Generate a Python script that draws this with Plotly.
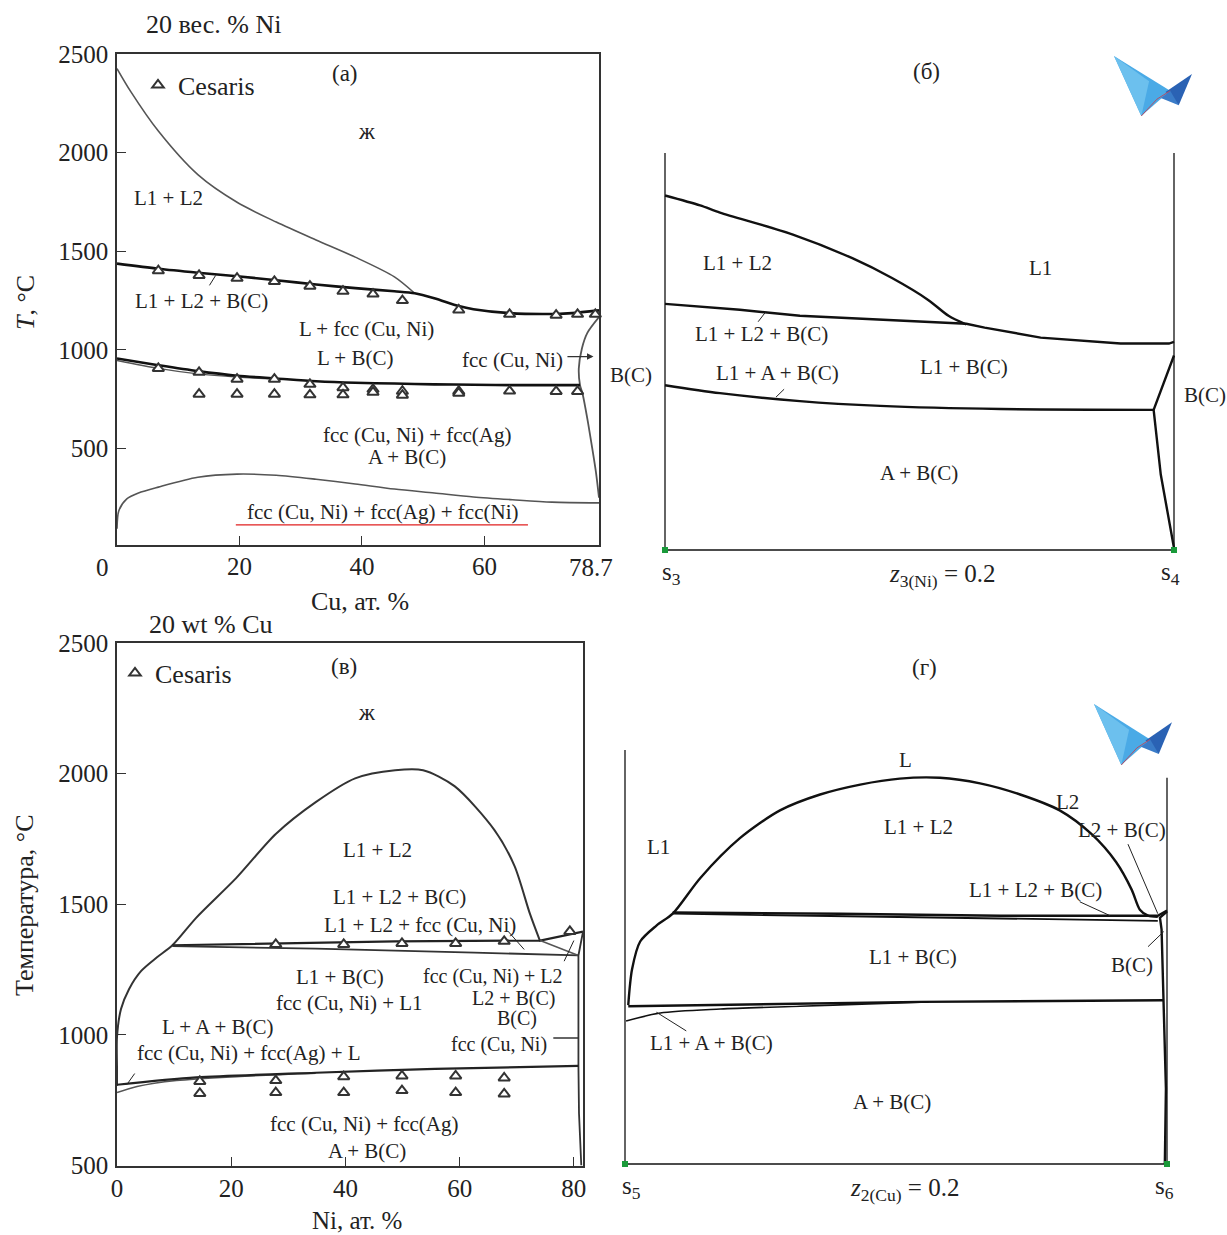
import plotly.graph_objects as go

W, H = 1227, 1235
SERIF = "Liberation Serif, Times New Roman, serif"
TXT = "#222"
THIN = "#555"
THICK = "#111"

# ---------------- Panel (а): 20 вес. % Ni, T vs Cu at.% ----------------
a_liq_cu = [0, 2.25, 6.75, 13.2, 19.6, 26.0, 32.5, 38.9, 45.3, 48.6]
a_liq_t = [2426, 2309, 2109, 1888, 1748, 1648, 1557, 1470, 1370, 1287]
a_up_cu = [0, 6.75, 13.2, 19.6, 26, 32.5, 38.9, 45.3, 48.6, 51.8, 55.8, 58.2, 64.1, 71.7, 74.3, 78.7]
a_up_t = [1437, 1411, 1391, 1373, 1353, 1331, 1313, 1297, 1287, 1262, 1222, 1206, 1186, 1182, 1186, 1200]
a_rb_cu = [78.7, 76.8, 75.9, 75.4, 75.6, 76.0, 76.8, 77.6, 78.2, 78.7]
a_rb_t = [1166, 1086, 1006, 906, 821, 780, 650, 500, 380, 250]
a_low_cu = [0, 6.75, 13.2, 19.6, 26, 32.5, 38.9, 45.3, 51.8, 58.2, 64.6, 75.6]
a_low_t = [956, 922, 892, 869, 855, 841, 833, 829, 825, 823, 821, 821]
a_low2_cu = [0, 6.75, 13.2, 19.6, 26]
a_low2_t = [946, 906, 878, 862, 852]
a_solv_cu = [0, 0.3, 1.6, 3.5, 6.75, 13.2, 19.6, 26, 32.5, 38.9, 45.3, 51.8, 58.2, 64.6, 71, 78.7]
a_solv_t = [93, 184, 244, 274, 304, 354, 370, 364, 344, 320, 294, 274, 254, 240, 228, 224]
ces_a_cu = [6.75, 13.4, 19.6, 25.7, 31.5, 36.9, 41.8, 46.6, 55.8, 64.1, 71.7, 75.2, 78.1,
            6.75, 13.4, 19.6, 25.7, 31.5, 36.9, 41.8, 46.6, 55.8, 64.1, 71.7, 75.2,
            13.4, 19.6, 25.7, 31.5, 36.9, 41.8, 46.6, 55.8]
ces_a_t = [1401, 1377, 1363, 1347, 1323, 1297, 1283, 1250, 1202, 1180, 1176, 1180, 1180,
           906, 886, 851, 851, 825, 808, 800, 790, 790, 791, 789, 789,
           775, 775, 775, 772, 772, 785, 770, 780]
a_yticks = [500, 1000, 1500, 2000, 2500]
a_xticks = [20, 40, 60]
a_xmax_label = "78.7"

# ---------------- Panel (б): isopleth z3(Ni)=0.2 ----------------
b_top_x = [0, 0.069, 0.108, 0.25, 0.368, 0.446, 0.517, 0.557, 0.592]
b_top_y = [89.3, 86.8, 85.0, 79.5, 73.5, 68.5, 63, 59, 56.8]
b_mid_x = [0, 0.147, 0.265, 0.423, 0.592, 0.628, 0.738, 0.895, 0.99, 1.0]
b_mid_y = [62, 60.5, 59, 58, 57, 56, 53.5, 52, 52, 52.4]
b_rb_x = [1.0, 0.96, 0.974, 1.0]
b_rb_y = [49, 35.3, 19, 0.5]
b_low_x = [0, 0.108, 0.265, 0.423, 0.659, 0.96]
b_low_y = [41.5, 39.5, 37.5, 36.3, 35.5, 35.3]
b_edge_top = 100

# ---------------- Panel (в): 20 wt % Cu, T vs Ni at.% ----------------
v_dome_ni = [0, 0, 0, 0.7, 2.1, 4.2, 7.0, 9.7, 13.9, 20.9, 27.8, 34.8, 41.7, 48.7, 53.6, 59.1, 66.1, 69.6, 72.3, 74.1]
v_dome_t = [805, 870, 992, 1099, 1175, 1244, 1297, 1343, 1449, 1601, 1769, 1891, 1982, 2013, 2013, 1952, 1784, 1647, 1464, 1358]
v_top_ni = [9.7, 27.8, 48.7, 74.1, 81.6]
v_top_t = [1343, 1350, 1358, 1361, 1395]
v_top2_ni = [9.7, 34.8, 62.6, 80.8]
v_top2_t = [1340, 1330, 1315, 1304]
v_conn_ni = [74.1, 80.8]
v_conn_t = [1361, 1304]
v_rb_ni = [81.6, 80.8, 80.8, 80.9, 81.3]
v_rb_t = [1395, 1304, 881, 700, 500]
v_low_ni = [0, 13.9, 34.8, 55.7, 80.8]
v_low_t = [809, 837, 855, 870, 881]
v_low2_ni = [0, 3.5, 10.4, 20.9, 34.8]
v_low2_t = [779, 802, 825, 840, 853]
ces_v_ni = [27.8, 39.7, 49.9, 59.3, 67.8, 79.3,
            14.5, 27.8, 39.7, 49.9, 59.3, 67.8,
            14.5, 27.8, 39.7, 49.9, 59.3, 67.8]
ces_v_t = [1346, 1346, 1350, 1350, 1358, 1396,
           822, 825, 840, 843, 843, 835,
           776, 779, 779, 787, 779, 774]
v_yticks = [500, 1000, 1500, 2000, 2500]
v_xticks = [0, 20, 40, 60, 80]

# ---------------- Panel (г): isopleth z2(Cu)=0.2 ----------------
g_dome_x = [0.006, 0.013, 0.028, 0.058, 0.088, 0.139, 0.212, 0.286, 0.36, 0.434, 0.507, 0.581,
            0.655, 0.729, 0.802, 0.861, 0.906, 0.935, 0.95, 0.965, 0.983]
g_dome_y = [40, 49, 56, 60, 63, 72, 82, 89, 93, 95.5, 97, 97.2,
            95.8, 93, 89, 83, 76, 69, 64, 62.5, 62.2]
g_top_x = [0.088, 0.397, 0.692, 0.983, 1.0]
g_top_y = [63.3, 63, 62.5, 62.5, 63.8]
g_top2_x = [0.088, 0.544, 0.839, 0.983]
g_top2_y = [63, 62.2, 61.5, 61.2]
g_rb_x = [1.0, 0.987, 0.99, 0.993, 0.998, 0.996]
g_rb_y = [63.5, 62, 59, 41, 19, 0]
g_low_x = [0.006, 0.249, 0.544, 0.993]
g_low_y = [39.7, 40.2, 40.8, 41.2]
g_low2_x = [0.002, 0.065, 0.176, 0.323, 0.45, 0.56]
g_low2_y = [36, 38, 39, 39.7, 40.3, 40.8]
g_edge_left_top = 104.2
g_edge_right_top = 97.2


def xdom(p0, p1, v0, v1, r0, r1):
    k = (p1 - p0) / (v1 - v0)
    return [(p0 + (r0 - v0) * k) / W, (p0 + (r1 - v0) * k) / W]


def ydom(p0, p1, v0, v1, r0, r1):
    k = (p1 - p0) / (v1 - v0)
    return [1 - (p0 + (r0 - v0) * k) / H, 1 - (p0 + (r1 - v0) * k) / H]


def P(x, y):
    return x / W, 1 - y / H


fig = go.Figure()


def line(xs, ys, ax, color=THICK, width=2.4, shape="linear"):
    fig.add_trace(go.Scatter(x=xs, y=ys, mode="lines", xaxis=ax[0], yaxis=ax[1],
                             line=dict(color=color, width=width, shape=shape, smoothing=0.8),
                             showlegend=False, hoverinfo="skip"))


A = ("x", "y")
B = ("x2", "y2")
V = ("x3", "y3")
G = ("x4", "y4")

# panel (а)
line(a_liq_cu, a_liq_t, A, THIN, 1.6, "spline")
line(a_up_cu, a_up_t, A, THICK, 2.6, "spline")
line(a_rb_cu, a_rb_t, A, THIN, 1.8, "spline")
line(a_low2_cu, a_low2_t, A, THIN, 1.3, "spline")
line(a_low_cu, a_low_t, A, THICK, 2.6, "spline")
line(a_solv_cu, a_solv_t, A, THIN, 1.6, "spline")
tri = dict(symbol="triangle-up", size=10, color="white", line=dict(color="#333", width=2))
fig.add_trace(go.Scatter(x=ces_a_cu, y=ces_a_t, mode="markers", name="Cesaris", marker=tri,
                         xaxis="x", yaxis="y", legend="legend", cliponaxis=False))

# panel (б)
line([0, 0], [0, b_edge_top], B, "#111", 1.3)
line([1, 1], [0, b_edge_top], B, "#111", 1.3)
line([0, 1], [0, 0], B, "#111", 1.3)
line(b_top_x, b_top_y, B, shape="spline")
line(b_mid_x, b_mid_y, B)
line(b_rb_x, b_rb_y, B)
line(b_low_x, b_low_y, B, shape="spline")
fig.add_trace(go.Scatter(x=[0, 1], y=[0, 0], mode="markers", xaxis="x2", yaxis="y2",
                         marker=dict(symbol="square", size=6, color="#1a9a3a"),
                         showlegend=False, cliponaxis=False))

# panel (в)
line(v_dome_ni, v_dome_t, V, "#333", 2.0, "spline")
line(v_top_ni, v_top_t, V, "#222", 2.2)
line(v_top2_ni, v_top2_t, V, "#333", 1.8)
line(v_conn_ni, v_conn_t, V, THIN, 1.5)
line(v_rb_ni, v_rb_t, V, "#333", 1.8)
line(v_low2_ni, v_low2_t, V, THIN, 1.5, "spline")
line(v_low_ni, v_low_t, V, "#222", 2.2, "spline")
fig.add_trace(go.Scatter(x=ces_v_ni, y=ces_v_t, mode="markers", name="Cesaris", marker=tri,
                         xaxis="x3", yaxis="y3", legend="legend2", cliponaxis=False))

# panel (г)
line([0, 0], [0, g_edge_left_top], G, "#111", 1.3)
line([1, 1], [0, g_edge_right_top], G, "#111", 1.3)
line([0, 1], [0, 0], G, "#111", 1.3)
line(g_dome_x, g_dome_y, G, shape="spline")
line(g_top_x, g_top_y, G)
line(g_top2_x, g_top2_y, G, THICK, 1.8)
line(g_rb_x, g_rb_y, G)
line(g_low_x, g_low_y, G)
line(g_low2_x, g_low2_y, G, THICK, 1.6, "spline")
fig.add_trace(go.Scatter(x=[0, 1], y=[0, 0], mode="markers", xaxis="x4", yaxis="y4",
                         marker=dict(symbol="square", size=6, color="#1a9a3a"),
                         showlegend=False, cliponaxis=False))

ann = []
LBL = 21


def T(text, x, y, ax, size=LBL, **kw):
    d = dict(text=text, x=x, y=y, xref=ax[0], yref=ax[1], showarrow=False,
             xanchor="center", yanchor="middle",
             font=dict(family=SERIF, size=size, color=TXT))
    d.update(kw)
    ann.append(d)


def TP(text, px, py, size=26, **kw):
    x, y = P(px, py)
    d = dict(text=text, x=x, y=y, xref="paper", yref="paper", showarrow=False,
             xanchor="center", yanchor="middle",
             font=dict(family=SERIF, size=size, color=TXT))
    d.update(kw)
    ann.append(d)


shapes = []


def seg(x0, y0, x1, y1, ax, color="#222", width=1):
    shapes.append(dict(type="line", x0=x0, y0=y0, x1=x1, y1=y1, xref=ax[0], yref=ax[1],
                       line=dict(color=color, width=width)))


# labels (а)
T("(а)", 37.3, 2400, A, 23)
T("ж", 40.8, 2109, A, 23)
T("L1 + L2", 8.4, 1768, A)
T("L1 + L2 + B(C)", 13.8, 1246, A)
seg(15.1, 1327, 16.1, 1377, A)
T("L + fcc (Cu, Ni)", 40.7, 1106, A)
T("L + B(C)", 38.9, 960, A)
T("fcc (Cu, Ni)", 64.5, 950, A)
ann.append(dict(text="", x=77.8, y=966, ax=73.3, ay=966, xref="x", yref="y", axref="x", ayref="y",
                showarrow=True, arrowhead=2, arrowsize=1, arrowwidth=1.3, arrowcolor="#333"))
T("fcc (Cu, Ni) + fcc(Ag)", 49.1, 570, A)
T("A + B(C)", 47.3, 455, A)
T("fcc (Cu, Ni) + fcc(Ag) + fcc(Ni)", 43.4, 180, A)
seg(19.4, 112, 67.1, 112, A, "#e02020", 1.2)
TP("20 вес. % Ni", 214, 25)
TP("0", 102, 567, 25)
TP(a_xmax_label, 591, 567, 25)
TP("Cu, ат. %", 360, 601)
TP("<i>T</i>, °C", 25, 303, textangle=-90)

# labels (б)
T("(б)", 0.513, 120.5, B, 23)
T("L1 + L2", 0.142, 72.2, B)
T("L1", 0.738, 71, B)
T("L1 + L2 + B(C)", 0.19, 54.5, B)
seg(0.183, 57.5, 0.198, 60, B)
T("B(C)", -0.067, 44, B)
T("L1 + B(C)", 0.588, 46, B)
T("L1 + A + B(C)", 0.222, 44.5, B)
seg(0.218, 38.5, 0.234, 40.5, B)
T("B(C)", 1.06, 39, B)
T("A + B(C)", 0.50, 19.5, B)
T("s<sub>3</sub>", 0.013, -6, B, 25)
T("s<sub>4</sub>", 0.994, -6, B, 25)
T("<i>z</i><sub>3(Ni)</sub> = 0.2", 0.545, -6.5, B, 25)

# labels (в)
T("(в)", 39.8, 2409, V, 23)
T("ж", 43.7, 2233, V, 23)
T("L1 + L2", 45.6, 1708, V)
T("L1 + L2 + B(C)", 49.5, 1528, V)
T("L1 + L2 + fcc (Cu, Ni)", 53, 1422, V)
seg(68.5, 1396, 71.3, 1327, V)
T("L1 + B(C)", 39.1, 1221, V)
T("fcc (Cu, Ni) + L2", 65.9, 1224, V, 20)
seg(78.3, 1282, 80.0, 1361, V)
T("fcc (Cu, Ni) + L1", 40.7, 1122, V)
T("L2 + B(C)", 69.6, 1139, V, 20)
T("B(C)", 70.1, 1063, V, 20)
T("L + A + B(C)", 17.6, 1030, V)
T("fcc (Cu, Ni)", 66.9, 965, V, 20)
seg(76.4, 988, 80.8, 988, V, "#333", 1.3)
T("fcc (Cu, Ni) + fcc(Ag) + L", 23.1, 931, V)
seg(3.1, 852, 1.7, 809, V)
T("fcc (Cu, Ni) + fcc(Ag)", 43.3, 660, V)
T("A + B(C)", 43.7, 556, V)
TP("20 wt % Cu", 211, 624)
TP("Ni, ат. %", 357, 1220, 25)
TP("Температура, °C", 24, 905, textangle=-90)

# labels (г)
T("(г)", 0.552, 125, G, 23)
T("L", 0.518, 101.8, G)
T("L2", 0.817, 91.2, G)
T("L1 + L2", 0.541, 84.7, G)
T("L2 + B(C)", 0.917, 84, G)
seg(0.928, 80.5, 0.983, 63, G)
T("L1", 0.061, 79.8, G)
T("L1 + L2 + B(C)", 0.758, 69, G)
seg(0.839, 66, 0.895, 62.5, G)
T("L1 + B(C)", 0.531, 52, G)
T("B(C)", 0.935, 50.2, G)
seg(0.965, 54.7, 0.994, 58.5, G)
T("L1 + A + B(C)", 0.159, 30.5, G)
seg(0.113, 33.5, 0.058, 38.2, G)
T("A + B(C)", 0.493, 15.5, G)
T("s<sub>5</sub>", 0.012, -6, G, 25)
T("s<sub>6</sub>", 0.996, -6, G, 25)
T("<i>z</i><sub>2(Cu)</sub> = 0.2", 0.515, -6.5, G, 25)


# decorative logos
def logo(x0, y0, x1, y1):
    def pt(u, v):
        x, y = P(x0 + u * (x1 - x0), y0 + v * (y1 - y0))
        return f"{x:.5f},{y:.5f}"
    polys = [
        ([(0, 0), (0.72, 0.58), (0.35, 1.0)], "#4aaae6"),
        ([(0.0, 0.0), (0.45, 0.42), (0.35, 1.0)], "#6cc0ee"),
        ([(0.66, 0.6), (1.0, 0.3), (0.83, 0.82)], "#2a62b4"),
        ([(0.72, 0.58), (0.83, 0.82), (0.6, 0.7)], "#3a7cc8"),
    ]
    out = []
    for pts, col in polys:
        path = "M" + " L".join(pt(u, v) for u, v in pts) + " Z"
        out.append(dict(type="path", path=path, xref="paper", yref="paper",
                        fillcolor=col, line=dict(width=0)))
    path = "M" + pt(0.35, 1.0) + " L" + pt(0.55, 0.72) + " L" + pt(0.72, 0.58)
    out.append(dict(type="path", path=path, xref="paper", yref="paper",
                    line=dict(color="#b0506a", width=1)))
    return out


shapes += logo(1114, 56, 1192, 116)
shapes += logo(1094, 704, 1172, 765)

tickfont = dict(family=SERIF, size=25, color=TXT)
box = dict(showline=True, mirror=True, linecolor="#333", linewidth=1.5, ticks="inside",
           ticklen=9, tickcolor="#333", tickwidth=1.3, showgrid=False, zeroline=False,
           tickfont=tickfont, automargin=False)
hidden = dict(visible=False, showgrid=False, zeroline=False, automargin=False)

# hidden-axis panels: ranges padded so out-of-box labels stay visible
b_xr, b_yr = [-0.1, 1.1], [-12, 125]
g_xr, g_yr = [-0.09, 1.1], [-12, 130]

fig.update_layout(
    width=W, height=H, margin=dict(l=0, r=0, t=0, b=0, pad=0, autoexpand=False),
    paper_bgcolor="white", plot_bgcolor="rgba(0,0,0,0)",
    font=dict(family=SERIF, color=TXT),
    xaxis=dict(domain=xdom(117, 599, 0, 78.7, 0, 78.7), range=[0, 78.7], anchor="y",
               tickvals=a_xticks, ticklabelstandoff=-1, **box),
    yaxis=dict(domain=ydom(544.5, 54, 13, 2500, 13, 2500), range=[13, 2500], anchor="x",
               tickvals=a_yticks, ticklabelstandoff=2, **box),
    xaxis2=dict(domain=xdom(665, 1174, 0, 1, *b_xr), range=b_xr, anchor="y2", **hidden),
    yaxis2=dict(domain=ydom(550, 153, 0, 100, *b_yr), range=b_yr, anchor="x2", **hidden),
    xaxis3=dict(domain=xdom(117, 583, 0, 81.6, 0, 81.6), range=[0, 81.6], anchor="y3",
                tickvals=v_xticks, ticklabelstandoff=0, **box),
    yaxis3=dict(domain=ydom(1165.5, 643, 500, 2500, 500, 2500), range=[500, 2500], anchor="x3",
                tickvals=v_yticks, ticklabelstandoff=2, **box),
    xaxis4=dict(domain=xdom(625, 1167, 0, 1, *g_xr), range=g_xr, anchor="y4", **hidden),
    yaxis4=dict(domain=ydom(1164, 750, 0, 104.2, *g_yr), range=g_yr, anchor="x4", **hidden),
    legend=dict(x=P(138, 85)[0], y=P(138, 85)[1], xanchor="left", yanchor="middle",
                bgcolor="rgba(0,0,0,0)", borderwidth=0, font=dict(family=SERIF, size=26, color=TXT)),
    legend2=dict(x=P(115, 673)[0], y=P(115, 673)[1], xanchor="left", yanchor="middle",
                 bgcolor="rgba(0,0,0,0)", borderwidth=0, font=dict(family=SERIF, size=26, color=TXT)),
    annotations=ann,
    shapes=shapes,
)

fig.write_html("out.html")
